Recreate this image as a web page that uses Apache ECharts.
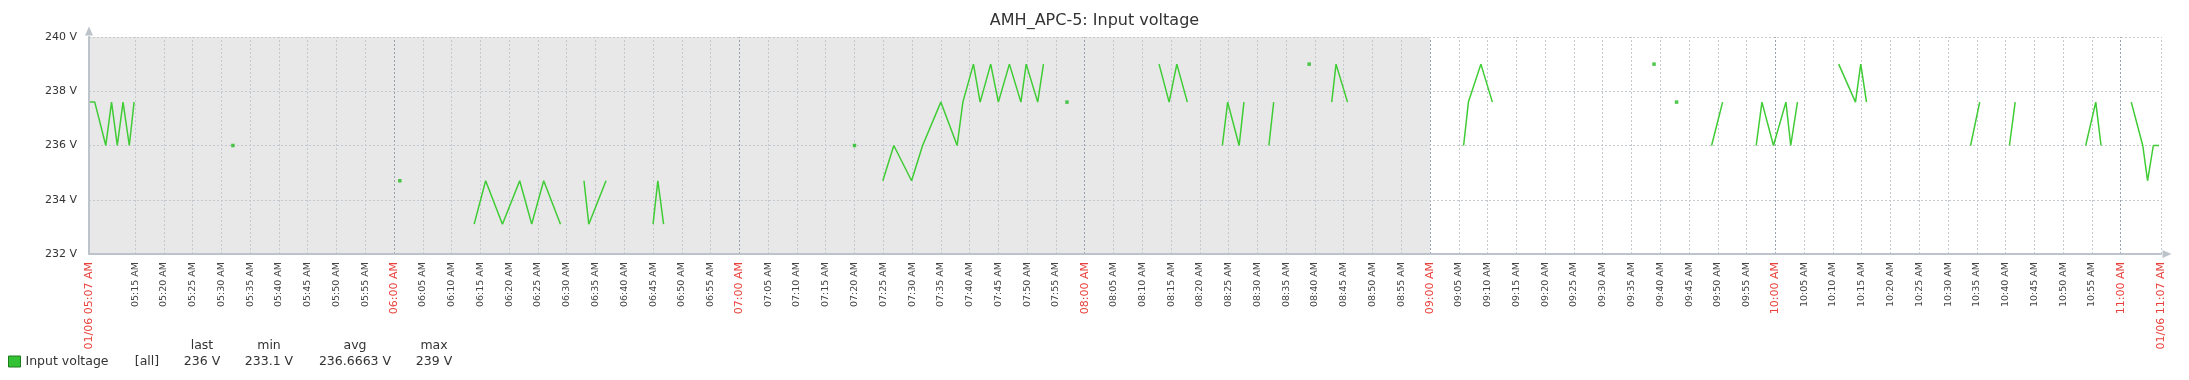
<!DOCTYPE html>
<html><head><meta charset="utf-8">
<script src="https://cdn.jsdelivr.net/npm/echarts@6/dist/echarts.min.js"></script>
<style>html,body{margin:0;padding:0;background:#fff}#c{width:2189px;height:380px}</style>
</head><body><div id="c"></div>
<script>
// ---------- data ----------
const chartTitle = 'AMH_APC-5: Input voltage';
const seriesName = 'Input voltage';
const dateLabel = '01/06';
const startTime = '05:07';
const endTime = '11:07';
const shadeEndTime = '09:00';
const yMin = 232, yMax = 240, yStep = 2;
const yTicks = [234, 236, 238, 240];
// connected samples (null = gap)
const lineTimes = [
 '05:07:00','05:08:00','05:09:55','05:10:55','05:11:55','05:12:55','05:14:00','05:14:50', null,
 '06:13:55','06:15:55','06:18:50','06:21:50','06:23:55','06:26:00','06:28:55', null,
 '06:33:00','06:33:50','06:36:50', null,
 '06:45:00','06:45:50','06:46:50', null,
 '07:24:55','07:26:50','07:29:55','07:31:50','07:35:00','07:37:50','07:38:50','07:40:40','07:41:50','07:43:40','07:45:00','07:46:55','07:48:55','07:49:50','07:51:50','07:52:50', null,
 '08:12:55','08:14:40','08:16:00','08:17:50', null,
 '08:23:55','08:24:50','08:26:50','08:27:40', null,
 '08:32:00','08:32:50', null,
 '08:42:55','08:43:40','08:45:40', null,
 '09:05:50','09:06:40','09:08:50','09:10:50', null,
 '09:48:55','09:50:50', null,
 '09:56:40','09:57:40','09:59:40','10:01:50','10:02:40','10:03:50', null,
 '10:11:00','10:13:55','10:14:50','10:15:50', null,
 '10:33:55','10:35:30', null,
 '10:40:40','10:41:40', null,
 '10:53:55','10:55:40','10:56:35', null,
 '11:01:50','11:03:50','11:04:40','11:05:40','11:06:40'
];
const lineValues = [
 237.6,237.6,236,237.6,236,237.6,236,237.6, null,
 233.1,234.7,233.1,234.7,233.1,234.7,233.1, null,
 234.7,233.1,234.7, null,
 233.1,234.7,233.1, null,
 234.7,236,234.7,236,237.6,236,237.6,239,237.6,239,237.6,239,237.6,239,237.6,239, null,
 239,237.6,239,237.6, null,
 236,237.6,236,237.6, null,
 236,237.6, null,
 237.6,239,237.6, null,
 236,237.6,239,237.6, null,
 236,237.6, null,
 236,237.6,236,237.6,236,237.6, null,
 239,237.6,239,237.6, null,
 236,237.6, null,
 236,237.6, null,
 236,237.6,236, null,
 237.6,236,234.7,236,236
];
// isolated samples
const dotTimes = ['05:32:00','06:01:00','07:20:00','07:56:55','08:39:00','09:38:55','09:42:50'];
const dotValues = [236, 234.7, 236, 237.6, 239, 239, 237.6];
// legend statistics
const statHeaders = ['last', 'min', 'avg', 'max'];
const statValues = ['236 V', '233.1 V', '236.6663 V', '239 V'];
const statScope = '[all]';

// ---------- helpers ----------
function toMin(t) { const p = t.split(':').map(Number); return p[0] * 60 + p[1] + (p[2] || 0) / 60; }
function fmt(v) {
  const h = Math.floor(v / 60), m = Math.round(v - h * 60);
  const ap = h >= 12 ? 'PM' : 'AM';
  const hh = ((h + 11) % 12) + 1;
  return String(hh).padStart(2, '0') + ':' + String(m).padStart(2, '0') + ' ' + ap;
}
const xMin = toMin(startTime), xMax = toMin(endTime), xShade = toMin(shadeEndTime);
// 5-minute grid inside range, skipping ones too close to the ends
const gridTicks = [];
for (let v = Math.ceil(xMin / 5) * 5; v <= xMax; v += 5) {
  if (v - xMin >= 5 && xMax - v >= 5) gridTicks.push(v);
}
const labelTicks = [xMin].concat(gridTicks, [xMax]);

const lineData = lineTimes.map((t, i) => t === null ? ['-', '-'] : [toMin(t), lineValues[i]]);
const dotData = dotTimes.map((t, i) => [toMin(t), dotValues[i]]);

const GREEN = '#3fcc35';
const minorGrid = { color: '#c3c9cf', type: [2, 2], width: 1 };
const hourGrid = { color: '#98a2ac', type: [2, 2], width: 1 };

const vLines = gridTicks.map(v => ({ xAxis: v, lineStyle: v % 60 === 0 ? hourGrid : minorGrid }));
vLines.push({ xAxis: xMax, lineStyle: minorGrid });
const hLines = yTicks.map(v => ({ yAxis: v, lineStyle: minorGrid }));

const chart = echarts.init(document.getElementById('c'), null, { renderer: 'canvas' });
const FONT = 'DejaVu Sans';

const graphics = [];
const cols = [202, 269, 355, 434];
statHeaders.forEach((h, i) => graphics.push({ type: 'text', x: cols[i], y: 346, style: { text: h, font: '12.5px "DejaVu Sans"', fill: '#333', textAlign: 'center', textVerticalAlign: 'middle' } }));
statValues.forEach((h, i) => graphics.push({ type: 'text', x: cols[i], y: 362, style: { text: h, font: '12.5px "DejaVu Sans"', fill: '#333', textAlign: 'center', textVerticalAlign: 'middle' } }));
graphics.push({ type: 'text', x: 147, y: 362, style: { text: statScope, font: '12.5px "DejaVu Sans"', fill: '#333', textAlign: 'center', textVerticalAlign: 'middle' } });

chart.setOption({
  animation: false,
  backgroundColor: '#ffffff',
  textStyle: { fontFamily: FONT },
  title: { text: chartTitle, left: 'center', top: 8, textStyle: { fontFamily: FONT, fontSize: 16, fontWeight: 'normal', color: '#333' } },
  legend: {
    left: 8, top: 355, padding: 0, itemWidth: 12, itemHeight: 11, itemGap: 4,
    textStyle: { fontFamily: FONT, fontSize: 12.5, color: '#333' },
    data: [{ name: seriesName, icon: 'rect', itemStyle: { color: '#33c233', borderColor: '#1e7a1e', borderWidth: 1 } }]
  },
  grid: { left: 89, right: 28, top: 37, height: 217, containLabel: false },
  xAxis: {
    type: 'value', min: xMin, max: xMax, z: 10,
    axisLine: { show: true, lineStyle: { color: '#bcc3ca', width: 2 }, symbol: ['none', 'triangle'], symbolSize: [8, 9], symbolOffset: [0, 6] },
    axisTick: { show: false },
    splitLine: { show: false },
    axisLabel: {
      customValues: labelTicks,
      rotate: 90, margin: 8, interval: 0, hideOverlap: false,
      formatter: function (v) {
        if (Math.abs(v - xMin) < 1e-6 || Math.abs(v - xMax) < 1e-6) return '{r|' + dateLabel + ' ' + fmt(v) + '}';
        if (Math.round(v) % 60 === 0) return '{r|' + fmt(v) + '}';
        return '{g|' + fmt(v) + '}';
      },
      rich: {
        g: { fontFamily: FONT, fontSize: 9.5, color: '#444' },
        r: { fontFamily: FONT, fontSize: 11, color: '#e8413b' }
      }
    }
  },
  yAxis: {
    type: 'value', min: yMin, max: yMax, interval: yStep, z: 10,
    axisLine: { show: true, lineStyle: { color: '#bcc3ca', width: 2 }, symbol: ['none', 'triangle'], symbolSize: [8, 9], symbolOffset: [0, 6] },
    axisTick: { show: false },
    splitLine: { show: false },
    axisLabel: { formatter: '{value} V', fontFamily: FONT, fontSize: 11, color: '#333', margin: 12 }
  },
  graphic: graphics,
  series: [
    {
      name: 'bg', type: 'line', data: [], z: 1, silent: true,
      markArea: { silent: true, itemStyle: { color: '#e8e8e8' }, data: [[{ xAxis: xMin, yAxis: yMin }, { xAxis: xShade, yAxis: yMax }]] }
    },
    {
      name: 'grid', type: 'line', data: [], z: 2, silent: true,
      markLine: { silent: true, symbol: ['none', 'none'], label: { show: false }, animation: false, data: vLines.concat(hLines) }
    },
    {
      name: seriesName, type: 'line', data: lineData, z: 5, showSymbol: false, connectNulls: false,
      lineStyle: { color: GREEN, width: 1.5 }, itemStyle: { color: GREEN }
    },
    {
      name: 'dots', type: 'scatter', data: dotData, z: 5, symbol: 'rect', symbolSize: 3.5,
      itemStyle: { color: '#22bb22' }
    }
  ]
});
</script></body></html>
